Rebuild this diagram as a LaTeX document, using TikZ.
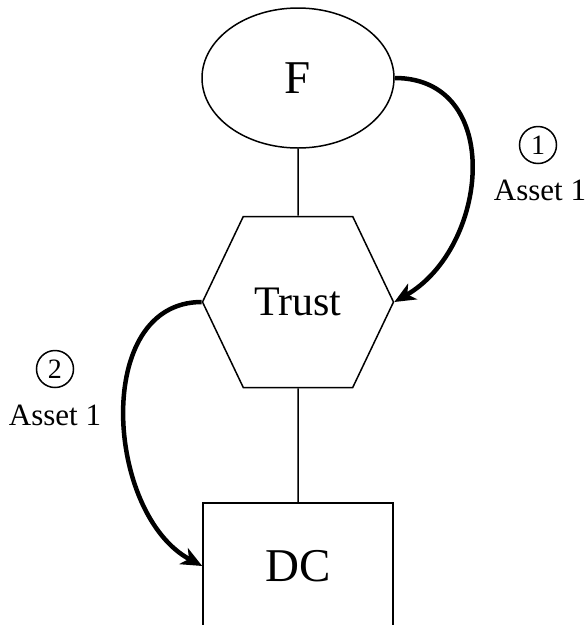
\documentclass[tikz,border=0pt]{standalone}
\usepackage{fontspec}
\setmainfont{Liberation Serif}
\usetikzlibrary{shapes.geometric, shapes.symbols, arrows.meta}

\begin{document}
\begin{tikzpicture}[
    x=1pt, y=1pt,
    level 1/.style={level distance=224pt},
    level 2/.style={level distance=264pt},
    edge from parent/.style={draw, line width=1.5pt},
    party/.style={draw, line width=1.5pt, inner sep=0pt, align=center},
    flow/.style={line width=4.5pt, -{Stealth[length=21pt, width=18pt, inset=6pt]}},
    stepnum/.style={circle, draw, line width=1.5pt, minimum size=37pt, inner sep=0pt, font=\fontsize{28}{28}\selectfont},
    asset/.style={inner sep=0pt, font=\fontsize{31}{31}\selectfont}
  ]
\useasboundingbox (0,0) rectangle (586,-625);
\clip (0,0) rectangle (586,-625);

\node[party, ellipse, minimum width=192pt, minimum height=140pt, font=\fontsize{47}{47}\selectfont] (F) at (298,-78) {F}
  child {
    node[party, signal, signal to=west and east, signal pointer angle=129, minimum width=191pt, minimum height=171pt, font=\fontsize{42}{42}\selectfont] (T) {Trust}
      child { node[party, rectangle, minimum width=190pt, minimum height=126pt, font=\fontsize{47}{47}\selectfont] (DC) {DC} }
  };

% transfers
\draw[flow] (F.east) to[out=0, in=30, looseness=1.25] (T.east);
\draw[flow] (T.west) to[out=180, in=152, looseness=1.06] (DC.west);

\node[stepnum] (n1) at (538,-145) {1};
\node[asset] (a1) at (540,-190) {Asset 1};
\node[stepnum] (n2) at (55,-369) {2};
\node[asset] (a2) at (55,-415) {Asset 1};
\end{tikzpicture}
\end{document}
